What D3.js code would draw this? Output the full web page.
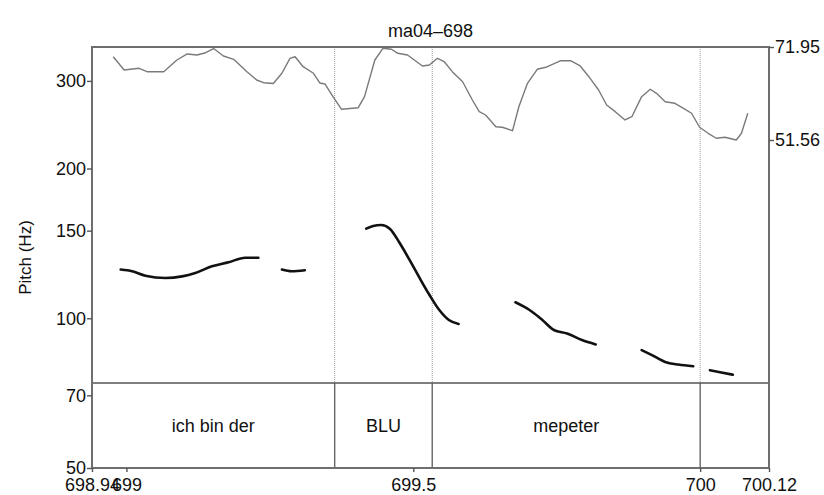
<!DOCTYPE html>
<html>
<head>
<meta charset="utf-8">
<script src="https://cdn.jsdelivr.net/npm/d3@7"></script>
<style>
  body { margin: 0; background: #fff; }
  text { font-family: "Liberation Sans", Arial, sans-serif; fill: #111; }
</style>
</head>
<body>
<script>
const width = 824;
const height = 495;

// data
const title = "ma04\u2013698";
const pitchTicks = [50, 70, 100, 150, 200, 300];
const intensityTicks = [51.56, 71.95];
const timeTicks = [698.94, 699, 699.5, 700, 700.12];
const wordBounds = [698.94, 699.363, 699.533, 700.0, 700.12];
const words = ["ich bin der", "BLU", "mepeter", ""];

// intensity (dB) : [time, value]
const intensity = [
  [698.977, 69.82], [698.996, 66.91], [699.007, 67.06], [699.022, 67.28], [699.036, 66.54],
  [699.065, 66.54], [699.088, 69.10], [699.106, 70.42], [699.123, 70.20], [699.138, 70.70],
  [699.152, 71.62], [699.169, 69.98], [699.187, 69.25], [699.210, 66.54], [699.227, 64.72],
  [699.239, 64.12], [699.256, 63.95], [699.271, 66.19], [699.285, 69.47], [699.294, 69.82],
  [699.308, 67.63], [699.326, 66.19], [699.337, 64.06], [699.346, 63.84], [699.360, 61.06],
  [699.375, 58.29], [699.404, 58.64], [699.415, 61.06], [699.433, 69.10], [699.447, 71.67],
  [699.462, 71.45], [699.473, 70.57], [699.490, 70.20], [699.516, 67.79], [699.528, 68.00],
  [699.542, 69.47], [699.554, 68.73], [699.568, 66.54], [699.586, 64.34], [699.603, 60.33],
  [699.615, 57.77], [699.626, 57.04], [699.644, 54.48], [699.655, 54.35], [699.673, 53.60],
  [699.684, 58.86], [699.699, 63.99], [699.716, 67.06], [699.731, 67.50], [699.757, 68.95],
  [699.774, 68.95], [699.791, 67.79], [699.806, 65.44], [699.823, 62.52], [699.837, 59.24],
  [699.852, 57.77], [699.869, 55.95], [699.881, 56.67], [699.898, 61.06], [699.913, 62.68],
  [699.924, 61.80], [699.939, 59.96], [699.956, 59.61], [699.971, 58.51], [699.985, 57.42],
  [699.999, 54.35], [700.014, 53.03], [700.028, 51.94], [700.043, 52.16], [700.063, 51.56],
  [700.072, 53.03], [700.083, 57.42]
];

// pitch (Hz) : voiced stretches
const pitch = [
  [[698.990, 125.3], [699.010, 124.3], [699.033, 121.8], [699.068, 120.5], [699.097, 121.4],
   [699.120, 123.3], [699.149, 127.2], [699.178, 129.6], [699.207, 132.3], [699.230, 132.3]],
  [[699.271, 125.3], [699.288, 124.3], [699.311, 124.9]],
  [[699.418, 151.4], [699.430, 153.3], [699.444, 154.0], [699.459, 151.4], [699.476, 141.8],
   [699.493, 131.3], [699.511, 120.5], [699.528, 111.5], [699.545, 104.0], [699.562, 99.2],
   [699.579, 97.4]],
  [[699.678, 107.7], [699.702, 104.0], [699.725, 99.2], [699.745, 94.7], [699.768, 93.2],
   [699.794, 90.4], [699.818, 88.6]],
  [[699.898, 86.3], [699.916, 84.3], [699.939, 81.7], [699.962, 80.7], [699.988, 80.1]],
  [[700.017, 78.6], [700.037, 77.8], [700.057, 77.0]]
];

const m = { top: 47, right: 55, bottom: 27, left: 92 };
const tierTop = 383;
const fs = 18;

const svg = d3.select("body").append("svg")
  .attr("width", width)
  .attr("height", height);

const x = d3.scaleLinear()
  .domain([698.94, 700.12])
  .range([m.left, width - m.right]);

const y = d3.scaleLog()
  .domain([50, 351])
  .range([height - m.bottom, m.top]);

const yI = d3.scaleLinear()
  .domain([51.56, 71.95])
  .range([140, m.top]);

// dotted word boundaries in the pitch panel
svg.append("g")
  .selectAll("line")
  .data(wordBounds.slice(1, -1))
  .join("line")
  .attr("x1", x).attr("x2", x)
  .attr("y1", m.top).attr("y2", tierTop)
  .attr("stroke", "#999")
  .attr("stroke-width", 1)
  .attr("stroke-dasharray", "1,1");

// solid boundaries in the word tier
svg.append("g")
  .selectAll("line")
  .data(wordBounds.slice(1, -1))
  .join("line")
  .attr("x1", x).attr("x2", x)
  .attr("y1", tierTop).attr("y2", height - m.bottom)
  .attr("stroke", "#666")
  .attr("stroke-width", 1.4);

svg.append("line")
  .attr("x1", m.left).attr("x2", width - m.right)
  .attr("y1", tierTop).attr("y2", tierTop)
  .attr("stroke", "#555")
  .attr("stroke-width", 1.4);

// word labels
svg.append("g")
  .selectAll("text")
  .data(words)
  .join("text")
  .attr("x", (d, i) => (x(wordBounds[i]) + x(wordBounds[i + 1])) / 2)
  .attr("y", 432)
  .attr("text-anchor", "middle")
  .attr("font-size", fs)
  .text((d) => d);

// intensity curve
svg.append("path")
  .datum(intensity)
  .attr("fill", "none")
  .attr("stroke", "#7a7a7a")
  .attr("stroke-width", 1.4)
  .attr("stroke-linejoin", "round")
  .attr("d", d3.line().x((d) => x(d[0])).y((d) => yI(d[1])));

// pitch curve
svg.append("g")
  .selectAll("path")
  .data(pitch)
  .join("path")
  .attr("fill", "none")
  .attr("stroke", "#111")
  .attr("stroke-width", 2.6)
  .attr("stroke-linecap", "round")
  .attr("d", d3.line().x((d) => x(d[0])).y((d) => y(d[1])).curve(d3.curveMonotoneX));

// frame
svg.append("rect")
  .attr("x", m.left).attr("y", m.top)
  .attr("width", width - m.left - m.right)
  .attr("height", height - m.top - m.bottom)
  .attr("fill", "none")
  .attr("stroke", "#6e6e6e")
  .attr("stroke-width", 2);

// axes
const styleAxis = (g) => {
  g.select(".domain").remove();
  g.selectAll(".tick line").attr("stroke", "#555").attr("stroke-width", 1.4);
  g.selectAll(".tick text").attr("font-size", fs).attr("fill", "#111")
    .attr("font-family", "Liberation Sans, Arial, sans-serif");
};

svg.append("g")
  .attr("transform", `translate(${m.left},0)`)
  .call(d3.axisLeft(y).tickValues(pitchTicks).tickFormat(d3.format("d")).tickSize(5).tickPadding(1))
  .call(styleAxis);

svg.append("g")
  .attr("transform", `translate(${width - m.right},0)`)
  .call(d3.axisRight(yI).tickValues(intensityTicks).tickFormat(d3.format(".2f")).tickSize(5).tickPadding(1))
  .call(styleAxis);

svg.append("g")
  .attr("transform", `translate(0,${height - m.bottom})`)
  .call(d3.axisBottom(x).tickValues(timeTicks).tickFormat((d) => String(+d.toFixed(2))).tickSize(4).tickPadding(6))
  .call(styleAxis);

// labels
svg.append("text")
  .attr("x", (m.left + width - m.right) / 2)
  .attr("y", 37)
  .attr("text-anchor", "middle")
  .attr("font-size", fs)
  .text(title);

svg.append("text")
  .attr("transform", `translate(31,${(m.top + height - m.bottom) / 2}) rotate(-90)`)
  .attr("text-anchor", "middle")
  .attr("font-size", 17)
  .text("Pitch (Hz)");
</script>
</body>
</html>
